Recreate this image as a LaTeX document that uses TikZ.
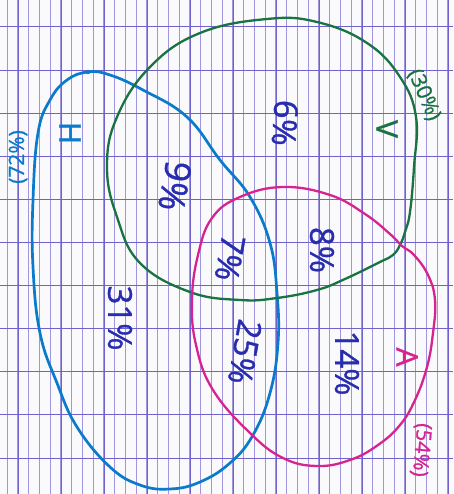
\documentclass[tikz,border=0pt]{standalone}
\usepackage{fontspec}
\setmainfont{Open Sans}
\newfontfamily\pen[FakeBold=1.0]{Open Sans}
\definecolor{paper}{RGB}{250,249,252}
\definecolor{thinline}{RGB}{160,150,222}
\definecolor{boldline}{RGB}{112,98,205}
\definecolor{hblue}{RGB}{10,122,205}
\definecolor{vgreen}{RGB}{25,115,65}
\definecolor{amag}{RGB}{215,35,145}
\definecolor{ink}{RGB}{40,45,175}
\tikzset{
  pct/.style={text=ink, font=\pen\fontsize{33}{33}\selectfont, inner sep=0pt},
  setname/.style={font=\pen\fontsize{30}{30}\selectfont, inner sep=0pt},
  setpct/.style={font=\pen\fontsize{21}{21}\selectfont, inner sep=0pt},
}
\begin{document}
\begin{tikzpicture}[x=1pt,y=-1pt]
\fill[paper] (0,0) rectangle (453,494);
\useasboundingbox (0,0) rectangle (453,494);
% graph paper
\foreach \k in {0,...,41} \draw[thinline, line width=0.7pt] ({7+10.75*\k},0) -- ({7+10.75*\k},494);
\foreach \k in {0,...,10} \draw[boldline, line width=1pt] ({18+43*\k},0) -- ({18+43*\k},494);
\foreach \k in {0,...,10} \draw[boldline, line width=1pt] (0,{27+43.1*\k}) -- (453,{27+43.1*\k});
% H
\draw[hblue, line width=2.7pt] plot[smooth cycle, tension=0.7] coordinates {
 (88,72) (67,80) (50,100) (38,133) (33,200) (33,267) (40,333) (57,383) (77,427)
 (110,467) (140,485) (170,489) (200,482) (230,463) (253,435) (270,393) (278,343)
 (277,293) (270,243) (250,197) (220,160) (187,117) (143,90) (110,75)};
\fill[hblue] (88,72) circle (2.2);
% V
\draw[vgreen, line width=2.3pt] plot[smooth cycle, tension=0.7] coordinates {
 (267,19) (200,33) (150,67) (117,117) (107,167) (117,217) (140,263) (190,292)
 (240,300) (277,298) (317,290) (345,279) (380,262) (393,255) (400,245) (405,232)
 (410,212) (414,167) (416,117) (400,77) (367,43) (317,22)};
% A
\draw[amag, line width=2.3pt] plot[smooth cycle, tension=0.7] coordinates {
 (283,187) (240,197) (212,218) (198,255) (192,300) (196,345) (213,390) (250,433)
 (283,458) (317,466) (350,460) (378,445) (400,425) (415,400) (427,367) (433,333)
 (435,300) (428,275) (414,255) (402,246) (390,234) (365,214) (330,195)};
% set labels
\node[setname, text=hblue, rotate=-90] (lh) at (70,133) {H};
\node[setpct, text=hblue, rotate=90] (ph) at (18,157) {(72\%)};
\node[setname, text=vgreen, rotate=-90] (lv) at (387,129) {V};
\node[setpct, text=vgreen, rotate=-67] (pv) at (424,95) {(30\%)};
\node[setname, text=amag, rotate=-90] (la) at (407,357) {A};
\node[setpct, text=amag, rotate=-95] (pa) at (421,450) {(54\%)};
% region values
\node[pct, rotate=-90] (r1) at (120,318) {31\%};
\node[pct, rotate=-100, font=\pen\fontsize{36}{36}\selectfont] (r2) at (175,186) {9\%};
\node[pct, rotate=-94] (r3) at (285,123) {6\%};
\node[pct, rotate=-100] (r4) at (230,258) {7\%};
\node[pct, rotate=-90] (r5) at (322,250) {8\%};
\node[pct, rotate=-100] (r6) at (245,352) {25\%};
\node[pct, rotate=-90] (r7) at (347,363) {14\%};
\end{tikzpicture}
\end{document}
